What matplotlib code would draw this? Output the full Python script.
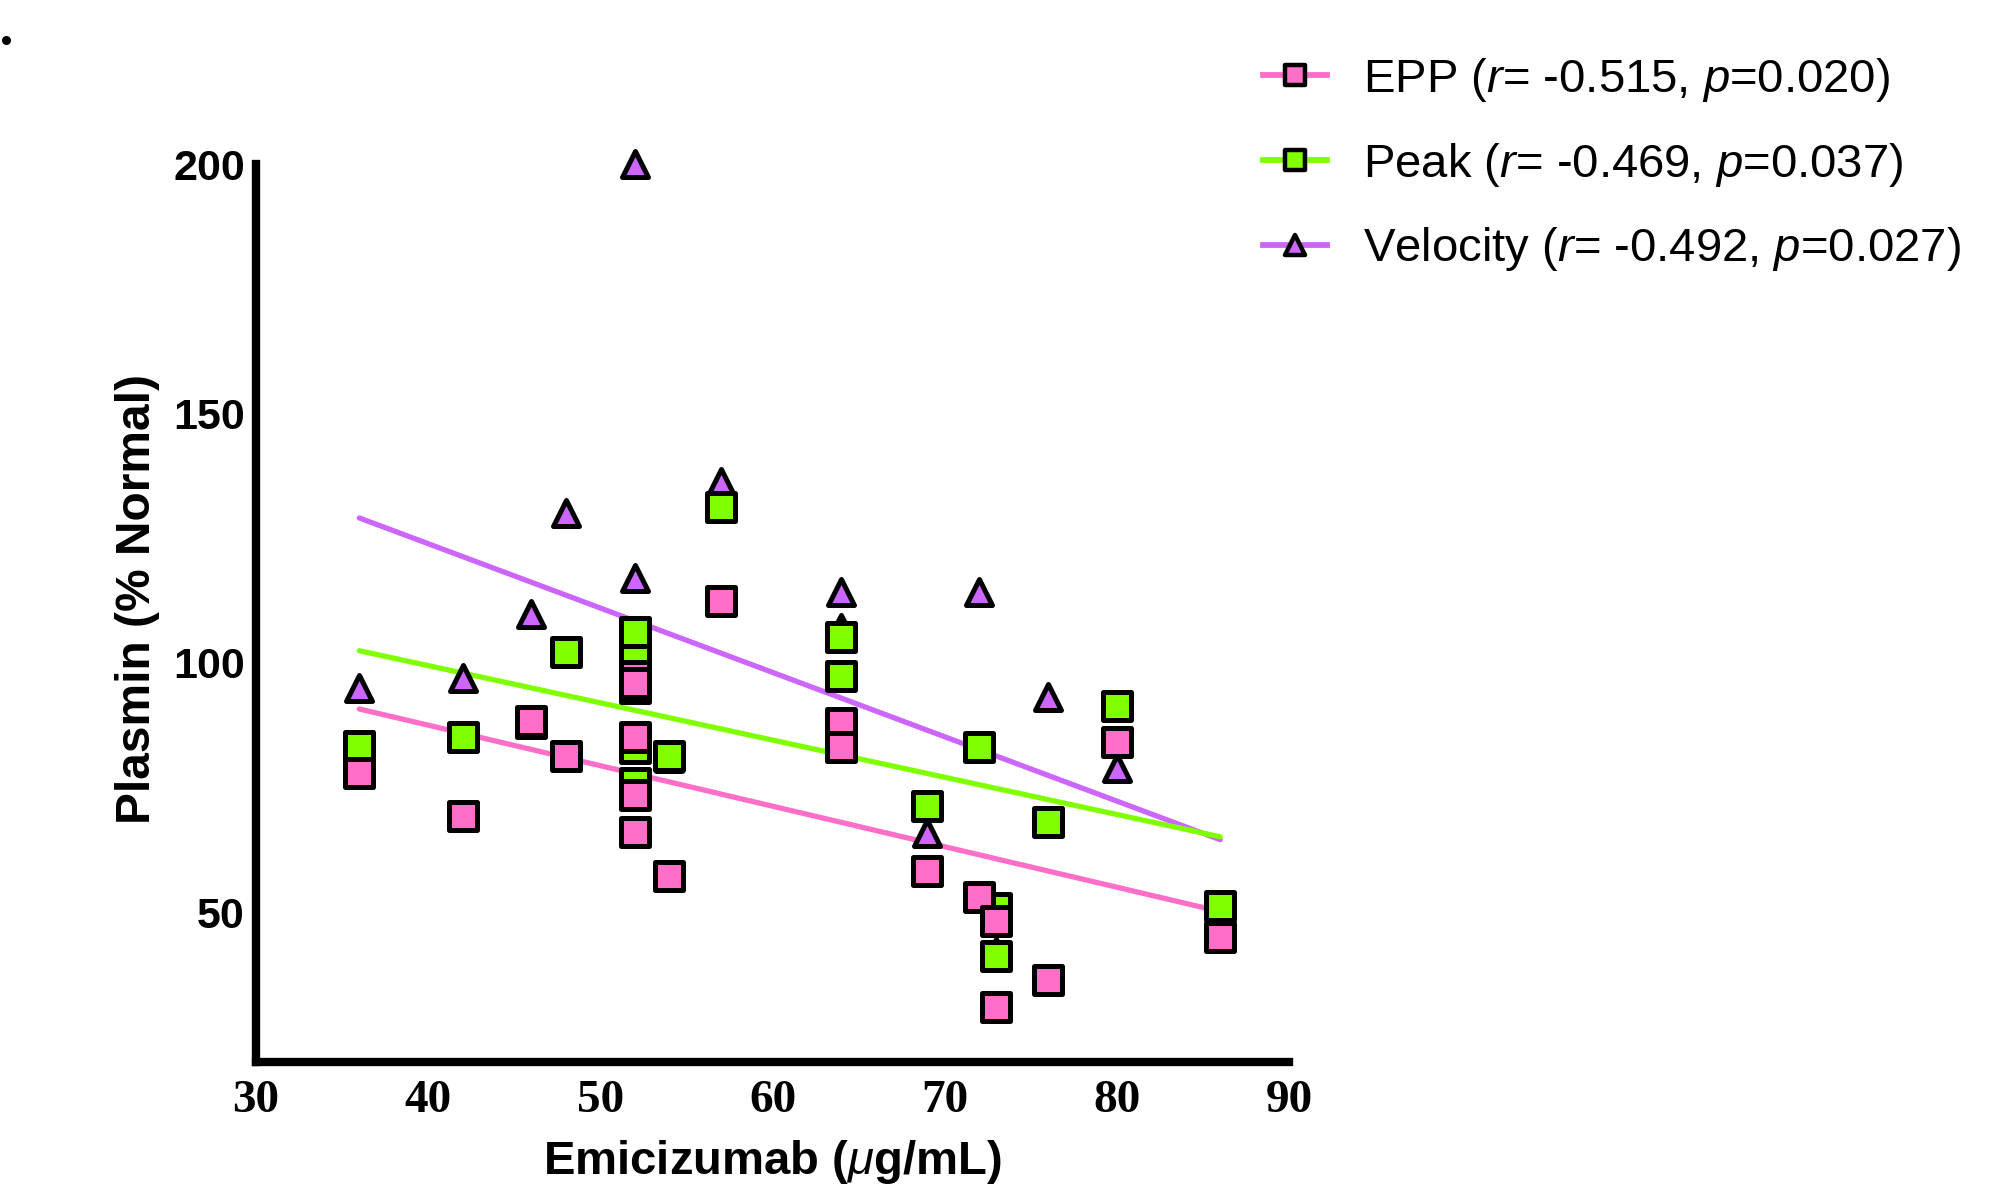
import matplotlib

matplotlib.use("Agg")
import matplotlib.pyplot as plt
from matplotlib.lines import Line2D
from matplotlib.markers import MarkerStyle

plt.rcParams["mathtext.fontset"] = "custom"
plt.rcParams["mathtext.it"] = "Liberation Sans:italic"
plt.rcParams["mathtext.rm"] = "Liberation Sans"

# emicizumab concentration per sample (µg/mL)
emicizumab = [36, 42, 46, 48, 52, 52, 52, 52, 52, 54, 57, 64, 64, 69, 72, 73, 73, 76, 80, 86]
# plasmin (% normal)
epp = [78.0, 69.3, 88.3, 81.3, 97.3, 96.0, 85.2, 73.6, 66.2, 57.2,
       112.4, 88.0, 83.1, 58.2, 53.0, 48.2, 31.0, 36.4, 84.1, 45.1]
peak = [83.4, 85.2, 88.0, 102.1, 106.2, 100.6, 95.0, 83.0, 76.0, 81.3,
        131.2, 105.2, 97.3, 71.3, 83.1, 50.8, 41.3, 68.2, 91.3, 51.3]
velocity = [94.9, 97.0, 109.8, 130.1, 200.0, 117.0, 96.0, 84.0, 75.0, 81.0,
            136.3, 114.2, 107.0, 66.0, 114.2, 49.0, 42.0, 93.1, 79.0, 50.0]

# linear fits: (slope, intercept)
epp_fit = (-0.812, 120.0)
peak_fit = (-0.746, 129.3)
velocity_fit = (-1.29, 175.5)

labels = [
    r"EPP ($r$= -0.515, $p$=0.020)",
    r"Peak ($r$= -0.469, $p$=0.037)",
    r"Velocity ($r$= -0.492, $p$=0.027)",
]
xticks = [30, 40, 50, 60, 70, 80, 90]
yticks = [50, 100, 150, 200]

PINK = "#ff6fc8"
GREEN = "#80ff00"
PURPLE = "#cc66ff"

fig = plt.figure(figsize=(20.11, 11.87), dpi=100)
ax = fig.add_axes([0.1273, 0.1053, 0.5137, 0.7565])

x_range = [min(emicizumab), max(emicizumab)]
series = [
    (velocity, velocity_fit, PURPLE, "^"),
    (peak, peak_fit, GREEN, "s"),
    (epp, epp_fit, PINK, "s"),
]
for values, (slope, icpt), color, marker in series:
    ax.plot(x_range, [slope * v + icpt for v in x_range], color=color, lw=3.8,
            solid_capstyle="round", zorder=2)

for values, fit, color, marker in series:
    ax.plot(emicizumab, values, linestyle="none",
            marker=MarkerStyle(marker, joinstyle="round"),
            ms=19.5 if marker == "s" else 19, mfc=color, mec="black", mew=3.6,
            zorder=3, clip_on=False)

ax.set_xlim(30, 90)
ax.set_ylim(20, 200)
ax.set_xticks(xticks)
ax.set_yticks(yticks)
for side in ["top", "right"]:
    ax.spines[side].set_visible(False)
for side in ["left", "bottom"]:
    ax.spines[side].set_linewidth(6)
ax.tick_params(length=0)
ax.tick_params(axis="y", pad=8)
ax.tick_params(axis="x", pad=13)
for lab in ax.get_yticklabels():
    lab.set_fontfamily("Liberation Sans")
    lab.set_fontweight("bold")
    lab.set_fontsize(31)
for lab in ax.get_xticklabels():
    lab.set_fontfamily("Liberation Serif")
    lab.set_fontweight("bold")
    lab.set_fontsize(34)

ax.set_ylabel("Plasmin (% Normal)", fontfamily="Liberation Sans",
              fontweight="bold", fontsize=34.5)
ax.yaxis.set_label_coords(-0.093, 0.516)

plt.rcParams["mathtext.it"] = "Liberation Sans:bold:italic"
fig.text(0.384, 0.011, r"Emicizumab ($\mu$g/mL)", fontfamily="Liberation Sans",
         fontweight="bold", fontsize=34, ha="center", va="baseline")
plt.rcParams["mathtext.it"] = "Liberation Sans:italic"

handles = [
    Line2D([], [], color=color, lw=4.2, marker=MarkerStyle(marker, joinstyle="round"),
           ms=14, mfc=color, mec="black", mew=3.2)
    for _, _, color, marker in series[::-1]
]
fig.legend(handles, labels, loc="upper left", bbox_to_anchor=(0.628, 0.953),
           frameon=False, prop={"family": "Liberation Sans", "size": 34},
           handlelength=1.36, handletextpad=0.77, labelspacing=0.78,
           borderpad=0, borderaxespad=0)

# small stray dot in the top-left corner of the original
fig.add_artist(Line2D([0.003], [0.966], marker="o", ms=5.5, color="black",
                      linestyle="none", transform=fig.transFigure))

fig.savefig("out.png", dpi=100)
